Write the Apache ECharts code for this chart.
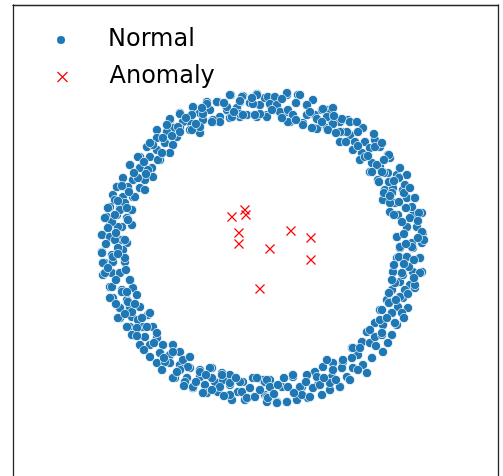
<!DOCTYPE html>
<html>
<head>
<meta charset="utf-8">
<script src="https://cdn.jsdelivr.net/npm/echarts@6/dist/echarts.min.js"></script>
<style>
html,body{margin:0;padding:0;background:#fff;}
#chart{width:503px;height:476px;}
</style>
</head>
<body>
<div id="chart"></div>
<script>
// Series names
const seriesNames = ['Normal', 'Anomaly'];

// Normal points (ring)
const normalTopLeft = [
[-0.31,1.53],[-0.19,1.52],[-0.05,1.54],[0.05,1.51],[-0.22,1.46],[-0.12,1.45],[-0.02,1.43],[-0.44,1.46],
[-0.35,1.38],[-0.25,1.40],[-0.15,1.33],[-0.05,1.31],[0.05,1.33],[-0.55,1.46],[-0.52,1.38],[-0.42,1.31],
[-0.32,1.30],[-0.22,1.31],[-0.69,1.40],[-0.62,1.35],[-0.72,1.26],[-0.59,1.28],[-0.49,1.26],[-0.82,1.35],
[-0.79,1.26],[-0.92,1.28],[-0.89,1.20],[-0.82,1.20],[-0.72,1.18],[-0.62,1.15],[-1.05,1.18],[-0.95,1.15],
[-1.05,1.10],[-0.85,1.11],[-0.97,1.05],[-0.89,1.03],[-1.15,1.01],[-1.05,0.98],[-0.92,0.95],[-1.22,0.91],
[-1.12,0.91],[-1.02,0.88],[-1.32,0.83],[-1.22,0.80],[-1.10,0.80],[-1.09,0.71],[-1.17,0.68],[-1.39,0.70],
[-1.29,0.68],[-1.45,0.61],[-1.35,0.60],[-1.22,0.60],[-1.49,0.53],[-1.39,0.51],[-1.29,0.51],[-1.52,0.41],
[-1.42,0.40],[-1.30,0.38],[-1.55,0.31],[-1.45,0.33],[-1.35,0.30],[-1.52,0.23],[-1.40,0.21],[-1.30,0.23],
[-1.60,0.13],[-1.52,0.11],[-1.40,0.08],[-1.35,0.05]
];
const normalBottomLeft = [
[-1.60,-0.04],[-1.50,-0.07],[-1.39,-0.02],[-1.57,-0.15],[-1.49,-0.14],[-1.37,-0.14],[-1.59,-0.27],[-1.50,-0.25],
[-1.42,-0.25],[-1.32,-0.32],[-1.52,-0.39],[-1.40,-0.42],[-1.29,-0.40],[-1.49,-0.50],[-1.35,-0.52],[-1.25,-0.47],
[-1.42,-0.60],[-1.32,-0.60],[-1.22,-0.59],[-1.42,-0.70],[-1.30,-0.69],[-1.14,-0.67],[-1.32,-0.79],[-1.19,-0.79],
[-1.09,-0.79],[-1.29,-0.87],[-1.17,-0.89],[-1.05,-0.90],[-1.22,-0.97],[-1.12,-0.97],[-0.99,-0.97],[-0.89,-0.97],
[-1.12,-1.09],[-1.02,-1.05],[-0.92,-1.07],[-0.82,-1.04],[-0.72,-1.09],[-1.05,-1.15],[-0.92,-1.15],[-0.82,-1.17],
[-0.72,-1.20],[-0.62,-1.22],[-0.87,-1.30],[-0.75,-1.30],[-0.62,-1.29],[-0.50,-1.20],[-0.40,-1.25],[-0.32,-1.27],
[-0.69,-1.40],[-0.57,-1.37],[-0.47,-1.34],[-0.39,-1.32],[-0.55,-1.45],[-0.44,-1.44],[-0.32,-1.37],[-0.24,-1.44],
[-0.19,-1.34],[-0.09,-1.30],[0.01,-1.32],[-0.30,-1.52],[-0.17,-1.52],[-0.07,-1.49],[0.03,-1.47],[0.05,-1.54]
];
const normalBottomRight = [
[0.03,-1.34],[0.08,-1.32],[0.05,-1.49],[0.15,-1.54],[0.20,-1.39],[0.25,-1.54],[0.31,-1.29],[0.35,-1.52],
[0.40,-1.39],[0.46,-1.50],[0.53,-1.24],[0.56,-1.37],[0.60,-1.47],[0.68,-1.42],[0.70,-1.29],[0.71,-1.15],
[0.78,-1.39],[0.81,-1.14],[0.85,-1.29],[0.91,-1.20],[0.90,-1.00],[0.96,-1.07],[1.01,-1.17],[1.05,-1.25],
[1.00,-0.94],[1.05,-0.84],[1.08,-0.95],[1.13,-0.89],[1.21,-1.04],[1.20,-0.87],[1.13,-0.75],[1.18,-0.62],
[1.30,-0.65],[1.21,-0.77],[1.35,-0.77],[1.25,-0.52],[1.36,-0.59],[1.30,-0.42],[1.41,-0.50],[1.46,-0.60],
[1.38,-0.34],[1.48,-0.37],[1.53,-0.40],[1.31,-0.24],[1.41,-0.27],[1.51,-0.24],[1.60,-0.24],[1.35,-0.10],
[1.45,-0.09],[1.58,-0.10],[1.38,0.00],[1.51,0.00]
];
const normalTopRight = [
[0.03,1.50],[0.13,1.43],[0.25,1.53],[0.36,1.53],[0.45,1.43],[0.05,1.31],[0.15,1.40],[0.25,1.36],
[0.28,1.26],[0.41,1.25],[0.53,1.33],[0.60,1.38],[0.66,1.38],[0.56,1.21],[0.65,1.20],[0.70,1.26],
[0.78,1.26],[0.86,1.28],[0.80,1.16],[0.88,1.13],[1.01,1.20],[0.78,1.06],[0.93,1.06],[1.03,1.06],
[1.13,1.08],[0.91,0.98],[1.00,0.95],[1.08,1.00],[1.18,1.01],[1.26,0.93],[0.98,0.88],[1.10,0.85],
[1.18,0.81],[1.28,0.90],[1.08,0.76],[1.16,0.68],[1.26,0.75],[1.36,0.70],[1.45,0.73],[1.23,0.58],
[1.31,0.60],[1.41,0.58],[1.21,0.48],[1.33,0.45],[1.45,0.50],[1.53,0.50],[1.28,0.36],[1.36,0.33],
[1.51,0.33],[1.60,0.35],[1.45,0.21],[1.55,0.21],[1.61,0.15],[1.35,0.11],[1.50,0.05],[1.60,0.05]
];
// Additional normal points (partly hidden circles), read from closer views
const normalTopExtra = [
[-0.32,1.53],[-0.20,1.51],[-0.05,1.53],[0.06,1.51],[0.13,1.51],[0.25,1.55],[0.38,1.53],[0.51,1.48],
[0.61,1.39],[0.71,1.40],[-0.45,1.46],[-0.55,1.44],[-0.69,1.41],[-0.82,1.34],[-0.92,1.29],[-0.95,1.16],
[-0.84,1.21],[-0.70,1.33],[-0.70,1.18],[-0.59,1.34],[-0.49,1.28],[-0.35,1.41],[-0.22,1.47],[-0.22,1.34],
[-0.09,1.44],[-0.02,1.34],[0.08,1.44],[0.15,1.43],[0.18,1.36],[0.26,1.38],[0.31,1.33],[0.45,1.43],
[0.45,1.33],[0.55,1.29],[0.65,1.31],[0.71,1.24],[0.80,1.29],[0.88,1.26],[0.85,1.16],[0.96,1.16],
[0.26,1.26],[0.41,1.23],[0.55,1.19],[0.66,1.18],[0.78,1.16],[-0.07,1.33],[-0.19,1.33],[-0.30,1.31],
[-0.42,1.26],[-0.50,1.26],[-0.62,1.21],[-0.82,1.16],[-0.95,1.23]
];
const normalBottomExtra = [
[-0.89,-1.04],[-0.79,-1.12],[-0.97,-1.14],[-0.89,-1.30],[-0.72,-1.09],[-0.74,-1.19],[-0.82,-1.22],[-0.69,-1.39],
[-0.77,-1.34],[-0.59,-1.45],[-0.62,-1.24],[-0.52,-1.20],[-0.50,-1.30],[-0.40,-1.27],[-0.42,-1.39],[-0.32,-1.35],
[-0.32,-1.47],[-0.22,-1.34],[-0.20,-1.44],[-0.15,-1.50],[-0.07,-1.49],[-0.05,-1.30],[0.05,-1.32],[0.08,-1.39],
[0.06,-1.50],[0.15,-1.55],[0.25,-1.54],[0.16,-1.37],[0.26,-1.39],[0.31,-1.27],[0.38,-1.39],[0.45,-1.27],
[0.40,-1.47],[0.51,-1.40],[0.55,-1.29],[0.61,-1.19],[0.58,-1.37],[0.68,-1.35],[0.71,-1.22],[0.80,-1.20],
[0.81,-1.12],[0.65,-1.12],[0.90,-1.10],[0.91,-1.00],[0.78,-1.39],[0.48,-1.49]
];
const normalLeftExtra = [
[-1.09,1.03],[-1.04,0.88],[-1.24,0.91],[-1.14,0.78],[-1.32,0.83],[-1.24,0.70],[-1.34,0.61],[-1.45,0.61],
[-1.17,0.58],[-1.27,0.51],[-1.47,0.48],[-1.37,0.45],[-1.54,0.40],[-1.42,0.38],[-1.30,0.38],[-1.34,0.28],
[-1.44,0.21],[-1.50,0.26],[-1.54,0.20],[-1.60,0.13],[-1.52,0.11],[-1.37,0.08],[-1.47,0.08],[-1.60,-0.05],
[-1.49,-0.09],[-1.37,-0.10],[-1.59,-0.15],[-1.57,-0.25],[-1.42,-0.25],[-1.32,-0.32],[-1.50,-0.39],[-1.40,-0.44],
[-1.52,-0.50],[-1.34,-0.54],[-1.42,-0.60],[-1.44,-0.70],[-1.30,-0.64],[-1.24,-0.72],[-1.35,-0.79],[-1.25,-0.80],
[-1.15,-0.79],[-1.30,-0.87],[-1.12,-0.65],[-1.05,-0.85]
];
const normalRightExtra = [
[1.03,0.91],[1.13,1.01],[1.20,1.05],[1.15,0.83],[1.27,0.93],[1.10,0.76],[1.22,0.75],[1.35,0.73],
[1.17,0.66],[1.27,0.66],[1.37,0.70],[1.43,0.63],[1.22,0.55],[1.30,0.55],[1.37,0.46],[1.42,0.55],
[1.53,0.50],[1.28,0.45],[1.32,0.33],[1.50,0.41],[1.48,0.30],[1.57,0.35],[1.45,0.21],[1.60,0.16],
[1.35,0.11],[1.50,0.01],[1.62,0.08],[1.38,0.01],[1.37,-0.09],[1.45,-0.09],[1.58,-0.10],[1.32,-0.17],
[1.47,-0.19],[1.40,-0.25],[1.58,-0.25],[1.33,-0.35],[1.53,-0.37],[1.43,-0.42],[1.27,-0.45],[1.38,-0.49],
[1.27,-0.55],[1.20,-0.62],[1.30,-0.65],[1.40,-0.65],[1.18,-0.72],[1.33,-0.75],[1.08,-0.82],[1.20,-0.85],
[1.30,-0.87]
];
// Estimated circles filling the dense, overlapped parts of the band
const normalFillTopLeft = [
[-0.38,1.45],[-0.28,1.36],[-0.60,1.40],[-0.76,1.30],[-0.66,1.24],[-0.99,1.10],[-0.90,1.12],[-1.12,1.05],
[-1.00,0.95],[-1.18,0.86],[-1.28,0.75],[-1.16,0.74],[-1.40,0.62],[-1.33,0.56],[-1.44,0.47],[-1.35,0.40],
[-1.47,0.33],[-1.57,0.30],[-1.46,0.15],[-1.56,0.04],[-1.44,0.00]
];
const normalFillBottomLeft = [
[-1.44,-0.06],[-1.54,-0.20],[-1.36,-0.22],[-1.46,-0.32],[-1.35,-0.44],[-1.46,-0.56],[-1.27,-0.56],[-1.37,-0.66],
[-1.20,-0.70],[-1.25,-0.88],[-1.08,-0.95],[-1.18,-1.02],[-0.98,-1.10],[-1.00,-1.22],[-0.85,-1.24],[-0.78,-1.38],
[-0.66,-1.34],[-0.50,-1.42],[-0.56,-1.27],[-0.38,-1.48],[-0.26,-1.30],[-0.12,-1.40],[-0.02,-1.42]
];
const normalFillBottomRight = [
[0.12,-1.46],[0.22,-1.30],[0.32,-1.45],[0.44,-1.34],[0.62,-1.30],[0.74,-1.32],[0.88,-1.32],[0.96,-1.22],
[1.10,-1.10],[0.98,-1.00],[1.14,-0.98],[1.26,-0.95],[1.25,-0.70],[1.42,-0.70],[1.34,-0.52],[1.46,-0.46],
[1.52,-0.30],[1.30,-0.32],[1.42,-0.16],[1.52,-0.12],[1.44,0.04]
];
const normalFillTopRight = [
[1.56,0.10],[1.42,0.14],[1.40,0.26],[1.56,0.27],[1.44,0.40],[1.28,0.52],[1.48,0.60],[1.32,0.67],
[1.20,0.76],[1.38,0.80],[1.22,0.88],[1.06,0.92],[1.12,1.14],[0.96,1.02],[0.95,1.26],[0.84,1.06],
[0.72,1.32],[0.74,1.15],[0.60,1.26],[0.48,1.36],[0.50,1.20],[0.34,1.45],[0.34,1.28],[0.20,1.30],
[0.20,1.49],[0.10,1.38],[-0.10,1.50]
];

// Anomaly points
const anomalyPoints = [
[-0.30,0.31],[-0.17,0.38],[-0.16,0.33],[-0.23,0.15],[-0.23,0.04],
[0.08,-0.01],[0.29,0.17],[0.49,0.10],[0.49,-0.12],[-0.02,-0.41]
];

const normalPoints = normalTopLeft.concat(normalBottomLeft, normalBottomRight, normalTopRight,
  normalTopExtra, normalBottomExtra, normalLeftExtra, normalRightExtra,
  normalFillTopLeft, normalFillBottomLeft, normalFillBottomRight, normalFillTopRight);

const xMark = 'path://M0,0L10,10M10,0L0,10';
const frameLine = {show: true, onZero: false, lineStyle: {color: '#262626', width: 1.3}};
const hidden = {axisTick: {show: false}, axisLabel: {show: false}, splitLine: {show: false}};
const chart = echarts.init(document.getElementById('chart'));
chart.setOption({
  animation: false,
  backgroundColor: '#ffffff',
  grid: {left: 13, top: 5, width: 485, height: 471, show: false},
  xAxis: Object.assign({type: 'value', position: 'top', min: -2.49, max: 2.36, axisLine: frameLine}, hidden),
  yAxis: [
    Object.assign({type: 'value', position: 'left', min: -2.28, max: 2.43, axisLine: frameLine}, hidden),
    Object.assign({type: 'value', position: 'right', min: -2.28, max: 2.43, axisLine: frameLine}, hidden)
  ],
  legend: [
    {
      data: [{name: seriesNames[0], icon: 'circle'}],
      left: 55, top: 23, padding: 0,
      itemWidth: 10, itemHeight: 10,
      selectedMode: false,
      textStyle: {fontFamily: 'DejaVu Sans', fontSize: 24, color: '#000', lineHeight: 24, padding: [0, 0, 10, 37]}
    },
    {
      data: [{name: seriesNames[1], icon: xMark, itemStyle: {color: 'none', borderColor: '#ff0000', borderWidth: 1.2}}],
      left: 55, top: 60, padding: 0,
      itemWidth: 10, itemHeight: 10,
      selectedMode: false,
      textStyle: {fontFamily: 'DejaVu Sans', fontSize: 24, color: '#000', lineHeight: 24, padding: [0, 0, 10, 37]}
    }
  ],
  series: [
    {
      name: seriesNames[0], type: 'scatter', data: normalPoints,
      symbol: 'circle', symbolSize: 9.2,
      itemStyle: {color: '#1f77b4', borderColor: '#ffffff', borderWidth: 0.7, opacity: 1}
    },
    {
      name: seriesNames[1], type: 'scatter', data: anomalyPoints,
      symbol: xMark, symbolSize: 9,
      itemStyle: {color: 'none', borderColor: '#ff0000', borderWidth: 1.2, opacity: 1}
    }
  ]
});
</script>
</body>
</html>
